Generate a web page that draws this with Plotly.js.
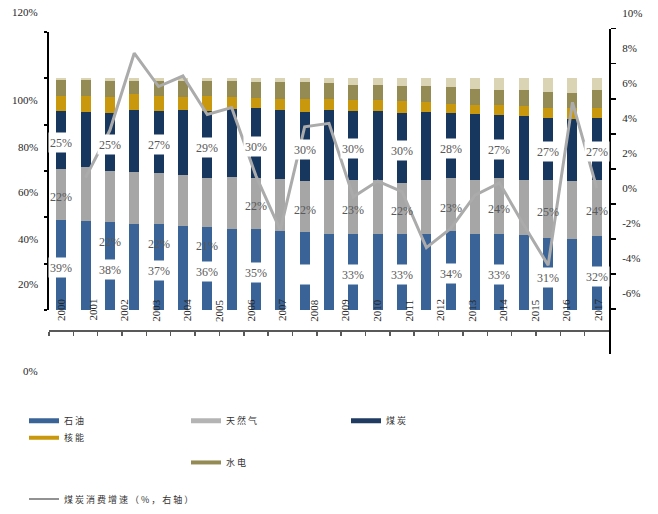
<!DOCTYPE html>
<html>
<head>
<meta charset="utf-8">
<script src="https://cdn.plot.ly/plotly-3.0.1.min.js"></script>
<style>
  html, body { margin: 0; padding: 0; background: #fff; }
  #chart { width: 658px; height: 514px; }
</style>
</head>
<body>
<div id="chart"></div>
<script>
// ---- data -------------------------------------------------------------
// 23 stacked periods (energy mix, % of total)
const periods = ['1995','1996','1997','1998','1999','2000','2001','2002','2003','2004','2005',
                 '2006','2007','2008','2009','2010','2011','2012','2013','2014','2015','2016','2017'];

const oil     = [39, 38.5, 38, 37.3, 37, 36.3, 36, 34.9, 35, 34.2, 33.5, 33.0, 33, 33.0, 33, 33.0, 34, 33.0, 33, 32.3, 31, 30.6, 32];
const gas     = [22, 23, 22, 22.2, 22, 22.1, 21, 22.4, 22, 22.5, 22, 23.2, 23, 23.2, 22, 23.2, 23, 23.2, 24, 23.9, 25, 25, 24];
const coal    = [25, 24, 25, 26.7, 27, 27.8, 29, 29.3, 30, 29.5, 30, 30, 30, 29.7, 30, 29.3, 28, 28.2, 27, 27.4, 27, 26.7, 27];
const nuclear = [6.1, 6.6, 7.0, 6.8, 6.1, 5.8, 6.1, 5.4, 4.5, 5.0, 5.7, 5.0, 4.7, 4.5, 5.0, 4.2, 4.0, 4.2, 4.6, 4.3, 4.2, 4.9, 4.2];
const hydro   = [6.9, 6.9, 6.8, 5.8, 6.7, 6.8, 6.7, 6.8, 6.8, 7.1, 7.1, 6.8, 6.4, 6.7, 6.6, 6.9, 7.2, 6.8, 6.1, 6.8, 6.8, 6.4, 7.5];
const renew   = [1.0, 1.0, 1.2, 1.2, 1.2, 1.2, 1.2, 1.2, 1.7, 1.7, 1.7, 2.0, 2.9, 2.9, 3.4, 3.4, 3.8, 4.6, 5.3, 5.3, 6.0, 6.4, 5.3];

// coal consumption growth, % (right axis)
const coalGrowth = [null, 1.5, 4.2, 8.6, 6.7, 7.3, 5.1, 5.5, 1.6, -1.5, 4.4, 4.6, 0.4, 1.3, 0.7, -2.5, -1.4, 0.5, 1.2, -1.2, -3.5, 5.8, 0.9];

// labelled periods (every other bar); null = label box left empty
const labelIdx   = [0, 2, 4, 6, 8, 10, 12, 14, 16, 18, 20, 22];
const oilLabels  = [39, 38, 37, 36, 35, null, 33, 33, 34, 33, 31, 32];
const gasLabels  = [22, 22, 22, 21, 22, 22, 23, 22, 23, 24, 25, 24];
const coalLabels = [25, 25, 27, 29, 30, 30, 30, 30, 28, 27, 27, 27];

// year captions along the lower axis
const yearTicks = [2000,2001,2002,2003,2004,2005,2006,2007,2008,2009,2010,2011,2012,2013,2014,2015,2016,2017];

// axis tick labels
const leftTickText  = ['120%', '100%', '80%', '60%', '40%', '20%', '0%'];
const rightTickVals = [-6, -4, -2, 0, 2, 4, 6, 8, 10];
const rightTickText = rightTickVals.map(v => v + '%');

// series names
const names = {
  oil: '石油', gas: '天然气', coal: '煤炭', nuclear: '核能', hydro: '水电',
  renew: '可再生能源', growth: '煤炭消费增速（%，右轴）'
};

// ---- styling / geometry ---------------------------------------------------
const W = 658, H = 514;
const px = v => v / W;          // page px -> paper x
const py = v => 1 - v / H;      // page px -> paper y

const colors = {
  oil: '#3A6497', gas: '#A6A6A6', coal: '#17375E', nuclear: '#C9980C',
  hydro: '#948A54', renew: '#DAD4B4', growth: '#ABABAB'
};
const serif = 'Liberation Serif, Times New Roman, serif';
const cjk = 'Noto Sans CJK SC, sans-serif';

// left tick label placement (page px, label centre)
const leftLabelY = [12, 101, 148, 194, 241, 287, 375];
// year caption row: first caption centre, pitch and vertical centre (page px)
const yearRow = { x0: 61, step: 31.59, y: 313 };

// ---- traces ---------------------------------------------------------------
function barTrace(key, vals) {
  return {
    type: 'bar', x: periods, y: vals, name: names[key],
    marker: { color: colors[key], line: { width: 0 } },
    showlegend: false, hoverinfo: 'skip'
  };
}

const traces = [
  barTrace('oil', oil),
  barTrace('gas', gas),
  barTrace('coal', coal),
  barTrace('nuclear', nuclear),
  barTrace('hydro', hydro),
  barTrace('renew', renew),
  {
    type: 'scatter', mode: 'lines', x: periods, y: coalGrowth, yaxis: 'y2',
    name: names.growth, line: { color: colors.growth, width: 3 },
    connectgaps: false, showlegend: false, hoverinfo: 'skip'
  }
];

// legend entries (one small legend each so they sit on the page grid)
const spaced = t => '<span style="letter-spacing:2px">' + t + '</span>';
const legendItems = [
  { key: 'oil',     color: colors.oil,     width: 5,   legend: 'legend',  x: 24,  y: 425 },
  { key: 'gas',     color: '#B4B4B4',      width: 5,   legend: 'legend2', x: 186, y: 425 },
  { key: 'coal',    color: '#1F3B62',      width: 5,   legend: 'legend3', x: 346, y: 425 },
  { key: 'nuclear', color: colors.nuclear, width: 4,   legend: 'legend4', x: 24,  y: 442 },
  { key: 'hydro',   color: colors.hydro,   width: 4,   legend: 'legend5', x: 186, y: 467 },
  { key: 'growth',  color: '#6E6E6E',      width: 1.5, legend: 'legend6', x: 24,  y: 504 }
];
legendItems.forEach(it => {
  traces.push({
    type: 'scatter', mode: 'lines', x: [null], y: [null],
    name: spaced(names[it.key]), legend: it.legend,
    line: { color: it.color, width: it.width },
    showlegend: true, hoverinfo: 'skip'
  });
});

// ---- annotations ------------------------------------------------------------
const annotations = [];

leftTickText.forEach((t, i) => {
  annotations.push({
    xref: 'paper', yref: 'paper', x: px(40), y: py(leftLabelY[i]),
    xanchor: 'right', yanchor: 'middle', text: t, showarrow: false,
    font: { family: serif, size: 11, color: '#262626' }
  });
});

yearTicks.forEach((yr, k) => {
  annotations.push({
    xref: 'paper', yref: 'paper',
    x: px(yearRow.x0 + k * yearRow.step), y: py(yearRow.y),
    xanchor: 'center', yanchor: 'middle', textangle: -90,
    text: String(yr), showarrow: false,
    font: { family: serif, size: 11, color: '#262626' }
  });
});

function segLabel(i, mid, text, boxed, extraShift) {
  const a = {
    xref: 'x', yref: 'y', x: i, y: mid, text: text, showarrow: false,
    yshift: -3 - (extraShift || 0),
    font: { family: serif, size: 12, color: '#595959' }
  };
  if (boxed) {
    a.bgcolor = '#FFFFFF';
    a.width = 22; a.height = 17; a.borderpad = 1;
  }
  annotations.push(a);
}

// gas labels on the early bars sit lower than the segment centre
const gasLabelDrop = { 2: 42, 4: 42, 6: 41 };

labelIdx.forEach((i, k) => {
  const o = oil[i], g = gas[i], c = coal[i];
  segLabel(i, o / 2, oilLabels[k] != null ? oilLabels[k] + '%' : '\u00a0', true);
  segLabel(i, o + g / 2, gasLabels[k] + '%', false, gasLabelDrop[i]);
  segLabel(i, o + g + c / 2, coalLabels[k] + '%', true);
});

// ---- layout -----------------------------------------------------------------
function legendBox(x, y) {
  return {
    x: px(x), y: py(y), xref: 'paper', yref: 'paper',
    xanchor: 'left', yanchor: 'middle', orientation: 'v',
    bgcolor: 'rgba(0,0,0,0)', borderwidth: 0,
    font: { family: cjk, size: 9, color: '#333333' }
  };
}

const layout = {
  width: W, height: H,
  margin: { l: 0, r: 0, t: 0, b: 0, pad: 0 },
  paper_bgcolor: '#FFFFFF', plot_bgcolor: 'rgba(0,0,0,0)',
  barmode: 'stack', bargap: 0.59,
  showlegend: true,
  xaxis: {
    type: 'category', domain: [px(49), px(609)], range: [-0.5, periods.length - 0.5],
    autorange: false, anchor: 'free', position: py(334),
    showline: true, linecolor: '#595959', linewidth: 2,
    ticks: 'outside', tickson: 'boundaries', ticklen: 4, tickwidth: 1.5, tickcolor: '#595959',
    showticklabels: false, showgrid: false, zeroline: false, fixedrange: true
  },
  yaxis: {
    domain: [py(313.3), py(32)], range: [0, 120], autorange: false, anchor: 'x',
    showline: true, linecolor: '#000000', linewidth: 2,
    ticks: 'outside', ticklen: 3, tickwidth: 2, tickcolor: '#000000',
    tickmode: 'array', tickvals: [0, 20, 40, 60, 80, 100, 120],
    showticklabels: false, showgrid: false, zeroline: false, fixedrange: true
  },
  yaxis2: {
    domain: [py(357), py(29)], range: [-8.544, 10], autorange: false, anchor: 'x', side: 'right',
    showline: true, linecolor: '#000000', linewidth: 2,
    ticks: 'outside', ticklen: 5, tickwidth: 1.5, tickcolor: '#000000',
    tickmode: 'array', tickvals: rightTickVals, ticktext: rightTickText,
    ticklabelshift: -16, ticklabelstandoff: 4,
    tickfont: { family: serif, size: 11, color: '#262626' },
    showgrid: false, zeroline: false, fixedrange: true
  },
  annotations: annotations
};
legendItems.forEach(it => { layout[it.legend] = legendBox(it.x, it.y); });

Plotly.newPlot('chart', traces, layout, { displayModeBar: false, staticPlot: true });
</script>
</body>
</html>
